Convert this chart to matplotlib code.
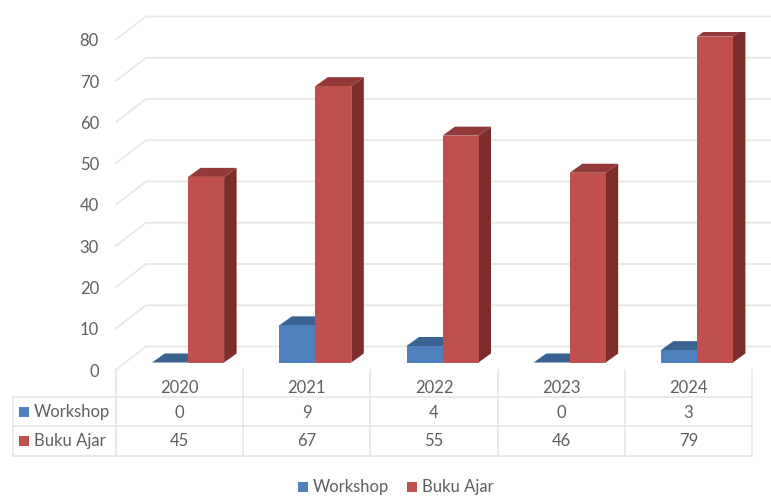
import matplotlib
matplotlib.use('Agg')
import matplotlib.pyplot as plt
from matplotlib.patches import Polygon, Rectangle

years = ['2020', '2021', '2022', '2023', '2024']
workshop = [0, 9, 4, 0, 3]
buku_ajar = [45, 67, 55, 46, 79]
y_ticks = [0, 10, 20, 30, 40, 50, 60, 70, 80]

W, H = 771, 498
plt.rcParams['font.family'] = ['Lato', 'DejaVu Sans']
TEXT = '#5f5f5f'
GRID = '#e6e6e6'
FS = 12

fig = plt.figure(figsize=(W / 100, H / 100), dpi=100)

# overlay in pixel coords for the table and legend
ov = fig.add_axes([0, 0, 1, 1])
ov.set_xlim(0, W)
ov.set_ylim(H, 0)
ov.axis('off')

ax = fig.add_axes([116 / W, (H - 362.5) / H, 636 / W, 330 / H])
ax.set_xlim(-0.5, 4.5)
ax.set_ylim(0, 80)
ax.axis('off')
ax.patch.set_alpha(0)

# 3d offsets in data units
px_x = 5 / 636
px_y = 80 / 330
dx, dy = 12.5 * px_x, 9 * px_y
bw = 36 * px_x
shift = 8.5 * px_x

# walls and gridlines
wall_dx = 30 * px_x
front_dy = -7 * px_y
back_dy = 16 * px_y
right_x = -0.5 + 655 * px_x
for v in y_ticks:
    ax.plot([-0.5, -0.5 + wall_dx, right_x], [v + front_dy, v + back_dy, v + back_dy],
            color=GRID, lw=1.2, clip_on=False, zorder=1)
    ax.text(-0.5 - 17 * px_x, v - 9 * px_y, str(v), ha='right', va='center',
            color=TEXT, fontsize=FS, clip_on=False)


def bar3d(x0, v, front, top, side, z):
    x1 = x0 + bw
    ax.add_patch(Polygon([(x1, 0), (x1 + dx, dy), (x1 + dx, v + dy), (x1, v)], fc=side, ec='none', zorder=z))
    ax.add_patch(Polygon([(x0, v), (x1, v), (x1 + dx, v + dy), (x0 + dx, v + dy)], fc=top, ec='none', zorder=z))
    ax.add_patch(Rectangle((x0, 0), bw, v, fc=front, ec='none', zorder=z))


for i in range(len(years)):
    bar3d(i + shift - bw, workshop[i], '#4f81bd', '#3a6290', '#2f5078', 3 + i)
    bar3d(i + shift, buku_ajar[i], '#c0504d', '#93393a', '#7d2e2c', 3.5 + i)

# data table
rows_y = [397, 426, 456]
col_x = [116 + 127.2 * k for k in range(6)]
for ry in rows_y:
    ov.plot([13, 752], [ry, ry], color=GRID, lw=1.2)
ov.plot([13, 13], [397, 456], color=GRID, lw=1.2)
for cx in col_x:
    ov.plot([cx, cx], [370, 456], color=GRID, lw=1.2)

for i, yr in enumerate(years):
    cx = (col_x[i] + col_x[i + 1]) / 2
    ov.text(cx, 388, yr, ha='center', va='center', color=TEXT, fontsize=FS)
    ov.text(cx, 413, str(workshop[i]), ha='center', va='center', color=TEXT, fontsize=FS)
    ov.text(cx, 441, str(buku_ajar[i]), ha='center', va='center', color=TEXT, fontsize=FS)

ov.add_patch(Rectangle((19, 407), 10, 10, fc='#4f81bd', ec='none'))
ov.add_patch(Rectangle((19, 436), 10, 10, fc='#c0504d', ec='none'))
ov.text(34, 412, 'Workshop', ha='left', va='center', color=TEXT, fontsize=FS)
ov.text(34, 441, 'Buku Ajar', ha='left', va='center', color=TEXT, fontsize=FS)

# legend
ov.add_patch(Rectangle((298, 482), 10, 10, fc='#4f81bd', ec='none'))
ov.add_patch(Rectangle((407, 482), 10, 10, fc='#c0504d', ec='none'))
ov.text(313, 487, 'Workshop', ha='left', va='center', color=TEXT, fontsize=FS)
ov.text(422, 487, 'Buku Ajar', ha='left', va='center', color=TEXT, fontsize=FS)

fig.savefig('out.png', dpi=100)
